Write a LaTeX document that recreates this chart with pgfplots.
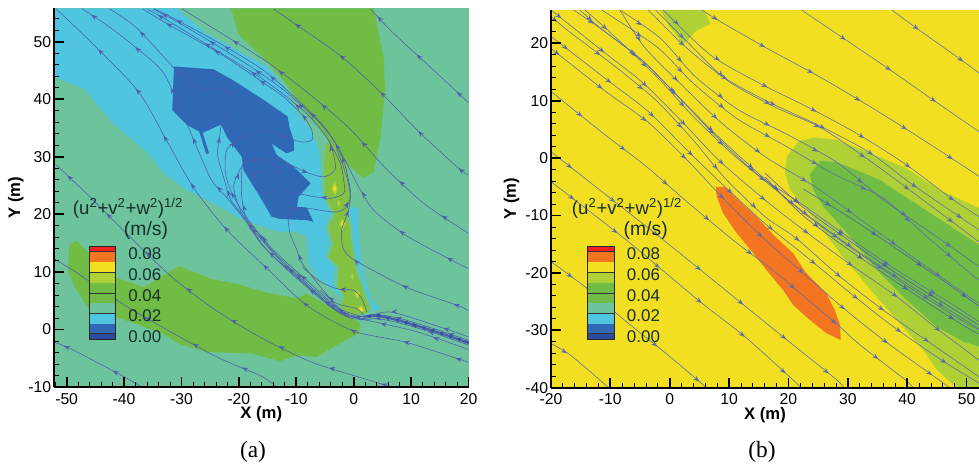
\documentclass[border=0pt]{standalone}
\usepackage{fontspec}
\usepackage{pgfplots}
\pgfplotsset{compat=1.18}
\usetikzlibrary{decorations.markings,arrows.meta}
\setmainfont{Liberation Sans}
\newfontfamily\capfont{Liberation Serif}
\definecolor{cRed}{HTML}{EE2024}
\definecolor{cOrange}{HTML}{F47521}
\definecolor{cYellow}{HTML}{F3DF22}
\definecolor{cLime}{HTML}{AFD136}
\definecolor{cGreen}{HTML}{70BC44}
\definecolor{cTeal}{HTML}{6DC39B}
\definecolor{cCyan}{HTML}{4FC5E0}
\definecolor{cBlue}{HTML}{2F68B4}
\definecolor{cNavy}{HTML}{2B4C9F}
\definecolor{cLineA}{HTML}{4C5EAC}
\definecolor{cLineB}{HTML}{5B6BAA}
\definecolor{cTxt}{HTML}{15302A}
\tikzset{
 flowline/.style={draw=#1,line width=0.42pt,smooth,tension=0.45,no markers},
 flowtips/.style 2 args={draw=none,no markers,
   postaction={decorate},
   decoration={markings,mark=between positions #2 and -6pt step 41pt with
     {\arrow[#1]{Stealth[length=4.6pt,width=3.5pt,inset=1.6pt]}}}},
 poly/.style={fill=#1,draw=none,no markers}
}
\newcommand\SA[2]{\addplot[flowline=cLineA] coordinates {#2};\addplot[flowtips={cLineA}{#1}] coordinates {#2};}
\newcommand\SB[2]{\addplot[flowline=cLineB] coordinates {#2};\addplot[flowtips={cLineB}{#1}] coordinates {#2};}
\pgfplotsset{
 panel/.style={
  scale only axis,
  axis on top,
  axis x line*=bottom,
  axis y line*=left,
  axis line style={line width=1.5pt,-},
  xtick distance=10,
  ytick distance=10,
  minor x tick num=4,
  minor y tick num=4,
  tick align=inside,
  major tick length=7.5pt,
  minor tick length=3.8pt,
  every major tick/.append style={line width=1.4pt,black},
  every minor tick/.append style={line width=0.6pt,black},
  /pgf/number format/assume math mode=true,
  tick label style={font=\fontsize{11.8}{12}\selectfont},
  xticklabel style={inner sep=2pt,yshift=-2.5pt},
  yticklabel style={inner sep=2pt},
  xlabel={X (m)},
  ylabel={Y (m)},
 }
}
\newcommand\legendbar[2]{% #1 x left, #2 x right (pixels)
  \fill[cRed]    (#1,246)   rectangle (#2,251.7);
  \fill[cOrange] (#1,251.7) rectangle (#2,262);
  \fill[cYellow] (#1,262)   rectangle (#2,272.5);
  \fill[cLime]   (#1,272.5) rectangle (#2,282.5);
  \fill[cGreen]  (#1,282.5) rectangle (#2,303);
  \fill[cTeal]   (#1,303)   rectangle (#2,313.7);
  \fill[cCyan]   (#1,313.7) rectangle (#2,323.7);
  \fill[cBlue]   (#1,323.7) rectangle (#2,333.7);
  \fill[cNavy]   (#1,333.7) rectangle (#2,339.3);
  \foreach \yy in {251.7,272.5,293,313.7,333.7}{\draw[black!80,line width=0.45pt] (#1,\yy) -- (#2,\yy);}
  \draw[black!85,line width=0.6pt] (#1,246) rectangle (#2,339.3);
}
\newcommand\legendtxt[3]{% #1 x left of numbers, #2 x centre of title, #3 x centre of (m/s)
  \foreach \v/\yy in {0.08/253.5,0.06/274.5,0.04/295.5,0.02/316,0.00/337}{
    \node[anchor=west,inner sep=0pt,text=cTxt,font=\fontsize{12.7}{13}\selectfont] at (#1,\yy) {\v};}
  \node[inner sep=0pt,text=cTxt,font=\fontsize{14}{14}\selectfont] at (#2,208)
     {(u\textsuperscript{2}+v\textsuperscript{2}+w\textsuperscript{2})\textsuperscript{1/2}};
  \node[inner sep=0pt,text=cTxt,font=\fontsize{14.5}{15}\selectfont] at (#3,230) {(m/s)};
}
\begin{document}
\begin{tikzpicture}[x=0.75pt,y=-0.75pt]
\useasboundingbox (0,0) rectangle (979,465);
%====================== (a)
\begin{axis}[panel,at={(40.5pt,-290.25pt)},anchor=south west,
  width=310.9pt,height=284pt,
  xmin=-52.2,xmax=20,ymin=-10,ymax=55.8,
  axis background/.style={fill=cTeal},
  every axis y label/.style={at={(axis description cs:-0.092,0.5)},rotate=90,anchor=center,font=\bfseries\fontsize{12.5}{13}\selectfont},
  every axis x label/.style={at={(axis description cs:0.5,-0.073)},anchor=center,font=\bfseries\fontsize{12.5}{13}\selectfont}]
% contour bands
\addplot[poly=cCyan] coordinates {(-52.2,55.8)(-30.8,55.8)(-25.6,51.4)(-21,48.9)(-15.1,45.7)(-11.7,41.6)(-10.2,38.1)(-8.5,36.1)(-7.3,34.1)(-6.4,32.3)(-5.6,29.4)(-5,22.5)(-2,21.5)(-0.3,21.3)(0.7,21)(0.85,16.7)(1.4,11.5)(2.3,7.4)(3.2,5.1)(4.6,3.6)(2.3,2.9)(1.1,3)(-6.4,9.1)(-7.9,11.5)(-8.2,16.1)(-9.9,17)(-13.4,17)(-19.8,19.3)(-24.4,21.9)(-29,24.2)(-33.1,27.1)(-35.8,30.6)(-41.9,35.8)(-47.1,41.9)(-52.2,43.9)} --cycle;
\addplot[poly=cBlue] coordinates {(-31.3,45.7)(-24.4,45.2)(-21,43.3)(-15.7,39.9)(-11.5,37)(-11.2,35.2)(-10.4,32.6)(-10.4,31.1)(-11.7,30.6)(-14.3,32.3)(-13.4,30.3)(-10.5,28.3)(-7.5,25.4)(-9.6,23.05)(-9.9,21.3)(-8.2,21.2)(-7,18.7)(-8.2,19)(-12.8,19.2)(-14.3,19.6)(-16.3,23)(-19.2,27.7)(-19.5,30)(-22.1,33.5)(-23.1,35.6)(-26.3,34.2)(-25.2,30.6)(-25.7,30.5)(-26.9,34.4)(-29,35.5)(-31.6,38.1)} --cycle;
\addplot[poly=cTeal] coordinates {(-6.4,33.5)(-5.8,29.4)(-5.5,23.6)(-4.6,21.3)(-3.8,20.2)(-5,17.8)(-4.1,14.9)(-5,12.6)(-3.2,10.9)(-3.5,8)(-2.1,6)(-3,4.2)(-1.2,2.8)(2.9,2.8)(3.2,3.9)(2.3,6.2)(1.8,7.4)(1.1,9.7)(0.5,12.6)(-0.1,15.5)(-0.2,17.2)(-0.7,20.2)(-0.2,22.5)(-0.7,26.5)(-1.3,28.8)(-3.5,32.9)} --cycle;
\addplot[poly=cGreen] coordinates {(-21.4,55.8)(-20.1,51.4)(-15.1,46.5)(-12.2,43.3)(-9.3,39.3)(-6.7,35.8)(-4.4,32.9)(-1.8,29.4)(0,27.7)(1.7,26.3)(3.5,27.4)(4.6,32.9)(5.5,41.6)(5.2,47.4)(4,53.2)(3.5,55.8)} --cycle;
\addplot[poly=cGreen!72!cLime] coordinates {(-4.9,32.3)(-5.1,28.3)(-5,23.6)(-4.1,21.3)(-3.2,20.2)(-4.4,17.8)(-3.5,14.9)(-4.4,12.6)(-2.6,10.9)(-2.9,7.4)(-1.5,5.6)(-2.4,3.9)(-0.6,2.5)(2.3,2.8)(2.8,3.6)(1.7,6.2)(1.4,7.4)(0.5,9.7)(-0.1,12.6)(-0.5,15.5)(-0.6,17.3)(-1.2,20.2)(-0.6,22.5)(-1.2,26.5)(-1.2,28.3)(-3.5,32.3)} --cycle;
\addplot[poly=cGreen] coordinates {(-49.5,14.7)(-48.2,15.4)(-46.6,13.7)(-41.7,9.1)(-36.5,7.3)(-34.2,8.8)(-30.4,11)(-24.9,8.8)(-20.3,7.9)(-15.1,6.4)(-9.9,5.4)(-8.2,6.2)(-4.1,3.9)(-1.2,2.5)(1.1,1)(0.9,-0.7)(-3.5,-3)(-6.4,-4.8)(-9.9,-4.5)(-12.8,-5.5)(-17.7,-4.2)(-25.8,-3.9)(-30.4,-2.5)(-33.3,-0.7)(-39.7,1.6)(-46,3.4)(-48.6,7.4)(-49.8,10.3)} --cycle;
% bright spots along the ridge
\addplot[poly=cLime] coordinates {(-3.9,24.6)(-3.3,25.6)(-2.8,24.6)(-3.2,23.2)} --cycle;
\addplot[poly=cLime] coordinates {(-2.9,22)(-2.6,22.6)(-2.3,21.9)(-2.6,21.2)} --cycle;
\addplot[poly=cLime] coordinates {(-2.5,18.4)(-2,19.2)(-1.4,18.4)(-2,17.3)} --cycle;
\addplot[poly=cLime] coordinates {(-0.5,9.2)(-0.2,9.6)(0,9.1)(-0.2,8.6)} --cycle;
\addplot[poly=cLime] coordinates {(0,6.3)(0.6,6.9)(1.2,6.2)(0.7,5.4)} --cycle;
\addplot[poly=cLime] coordinates {(0.6,3.6)(1.2,4.3)(2,3.4)(1.3,2.9)} --cycle;
\addplot[poly=cYellow] coordinates {(-3.6,24.5)(-3.3,25.1)(-3,24.5)(-3.3,23.9)} --cycle;
\addplot[poly=cYellow] coordinates {(-2.2,18.4)(-2,18.8)(-1.7,18.4)(-2,17.9)} --cycle;
\addplot[poly=cYellow] coordinates {(0.4,6.2)(0.7,6.5)(1,6.2)(0.7,5.8)} --cycle;
\addplot[poly=cYellow] coordinates {(0.9,3.5)(1.3,3.9)(1.6,3.4)(1.3,3.1)} --cycle;
% streamlines
\SA{12pt}{(20,39.4)(14.2,44.8)(6.9,51.5)(2.9,55.7)}
\SA{9pt}{(20,26.8)(18.3,28)(11.3,34.4)(4.9,41)(-2.1,47.4)(-9.9,52.9)(-14,55.7)}
\SA{24pt}{(20,16.7)(12.2,21.9)(5.5,28.1)(-0.7,34.9)(-7.6,40.8)(-15.1,46.5)(-24.4,52.3)(-29.9,55.7)}
\SA{18pt}{(20,10.6)(17.7,11.7)(9,16.4)(3.5,20.7)(0.85,24.8)(-1.2,28.8)(-3.5,32.9)(-6.4,36.4)(-12.2,41.6)(-18,45.7)(-24.4,49.7)(-30.8,53.5)(-34.9,55.7)}
\SA{12pt}{(20,3.3)(18,4.2)(9,7.4)(0.26,12)(-1.8,14)(-2.1,17.3)(-0.9,20.7)(-0.6,24.2)(-1.8,29.4)(-4.4,34.3)(-8.5,38.7)(-15.4,44.8)(-23.3,49.7)(-32,54.4)(-34.8,55.7)}
\SA{10pt}{(20,-5.7)(9,-2.2)(0,-0.3)(-8.2,4.2)(-15.1,10.6)(-22.1,17.3)(-27.8,24.5)(-32.4,32.5)(-37.4,41.2)(-44.9,49.1)(-51.9,55.8)}
\SA{28pt}{(20,-3.5)(11,-0.4)(2.3,1.6)(-1.2,2.2)(-5.8,5.7)(-12.8,12)(-17.5,17.3)(-22,22.8)(-24.9,26.2)(-28.7,34.9)(-32.4,43.3)(-34.8,46.4)(-42.3,52.4)(-47.3,55.7)}
\SA{20pt}{(20,-1.3)(15.9,0.15)(6.6,3)(2.3,2.3)(-1.2,2.5)(-6.4,6.5)(-13.4,12.9)(-18.3,18.7)(-21.4,22.5)(-22.6,26.2)(-23.7,30.3)(-23.4,33.2)(-22.9,36.4)(-22,37.2)(-20.8,40.2)(-22.6,41.9)(-26.6,41.9)(-30.1,44.2)(-37.7,52.3)(-42.5,55.7)}
\SA{16pt}{(20,-1.9)(13.9,0.15)(8.1,1.9)(4,2.6)(1.7,2.2)(-1.8,3)(-7.6,8)(-14.3,14.1)(-18.3,19)(-20.9,23)(-22.1,26)(-22.4,28.3)(-22.1,31.2)(-19.8,33.2)(-16,34.6)(-12.8,33.8)(-9.3,32.6)(-7.3,32.9)(-7.3,34.6)(-8.7,37)(-12.2,40.4)(-15.6,42.8)(-23.4,48)(-32.1,52.9)(-36.8,55.7)}
\SA{6pt}{(20,-2.35)(13.9,-0.25)(8.1,1.5)(4,2.3)(1.7,1.9)(-2.4,2.8)(-8.2,7.4)(-15.1,13.8)(-18.6,19)(-19.5,23)(-19.5,26.8)(-19.2,28.8)(-16.3,29.7)(-12.8,29.4)(-8.5,27.4)(-5.3,26.5)(-3.5,27.4)(-3.2,28.8)(-4.4,32.9)(-8.5,37.8)(-15.7,43.4)(-23.9,48.5)(-32.6,53.8)(-36,55.7)}
\SA{32pt}{(20,-2.7)(13.9,-0.6)(8.1,1.1)(4,1.9)(1.7,1.7)(-2.9,3.3)(-9,8.3)(-15.7,14.4)(-19.5,20.2)(-20.9,24.8)(-19.5,28.3)(-18,29.4)(-15.7,29.5)(-13.7,28.3)(-12.8,26)(-13.7,24.2)(-15.4,23.6)(-17.2,24.7)(-17.8,26)(-17.2,27.1)(-15.7,27.4)(-14.9,26.2)(-15.4,25.1)(-16.3,25.4)(-16.4,26.1)(-16,26.4)}
\SA{60pt}{(-4.4,32.9)(-2.3,28.8)(-1.6,24.8)(-1.8,23.6)(-3.8,22.8)(-7,23.1)(-9.6,23.6)(-12.8,24.2)}
\SA{70pt}{(1.7,2.2)(-2.4,3.6)(-5.8,7.4)(-9,11.5)(-9.9,13.8)(-11.1,16.7)(-11.4,19.8)(-10.5,21)(-7.6,21)(-3.5,20.4)(-1.5,21)(-0.6,23)(-1.2,26.5)(-2.9,31.2)}
\SA{30pt}{(2.3,3)(1.4,5.4)(0,6.8)(-2.6,7)(-5.8,8.3)(-9,10.9)}
\SA{30pt}{(1.7,2.5)(0.55,3.6)(-2.9,4.5)(-5.8,6.8)}
\SA{8pt}{(6.6,-10)(2,-8.6)(-7.3,-5.7)(-16.2,-1.4)(-24.1,3.4)(-32,9.4)(-41.3,18.4)(-45.9,23)(-52,28.8)}
\SA{30pt}{(-13.4,-10)(-16.3,-8)(-24.4,-4.5)(-38.9,3.6)(-48,9.7)(-52.2,12.3)}
\SA{25pt}{(-36.9,-10)(-40.4,-8)(-49.4,-3.3)(-52.2,-2.2)}
% the dense rail
\addplot[draw=cLineA,line width=1.7pt,smooth,tension=0.45,no markers] coordinates {(20,-2.3)(13.9,-0.25)(8.1,1.5)(4,2.4)(1.7,2.2)};
\addplot[draw=none,no markers,postaction={decorate},
  decoration={markings,mark=between positions 2pt and -2pt step 7pt with {\arrow[cNavy]{Stealth[length=3pt,width=3.2pt]}}}]
  coordinates {(20,-2.3)(13.9,-0.25)(8.1,1.5)(4,2.4)(1.7,2.2)};
\end{axis}
\legendbar{89.7}{115.7}
\legendtxt{128}{128}{146}
\node[inner sep=0pt,font=\capfont\fontsize{17.5}{18}\selectfont] at (253,452) {(a)};
%====================== (b)
\begin{axis}[panel,at={(413.25pt,-290.775pt)},anchor=south west,
  width=321pt,height=283.3pt,
  xmin=-20,xmax=52.1,ymin=-40,ymax=25.8,
  axis background/.style={fill=cYellow},
  every axis y label/.style={at={(axis description cs:-0.092,0.5)},rotate=90,anchor=center,font=\bfseries\fontsize{12.5}{13}\selectfont},
  every axis x label/.style={at={(axis description cs:0.5,-0.074)},anchor=center,font=\bfseries\fontsize{12.5}{13}\selectfont}]
\addplot[poly=cLime] coordinates {(-1.6,25.8)(5.7,25.8)(6.9,23.4)(4.5,22.2)(2.3,19.8)(-0.2,23.2)} --cycle;
\addplot[poly=cLime] coordinates {(19.4,-2.6)(19.7,0.26)(21.7,2.9)(24.2,3.6)(28.1,3.2)(33.2,1.1)(39.9,-1.8)(45.5,-5.6)(52.1,-8.7)(52.1,-40)(48.3,-40)(45,-36.9)(42.7,-33.4)(38.8,-28.8)(34.3,-23.5)(28.7,-16.6)(23.6,-9.6)(20.3,-5.6)} --cycle;
\addplot[poly=cGreen] coordinates {(23.6,-2.9)(25.3,-0.5)(28.1,-0.7)(35.4,-3.8)(40.5,-7.3)(46.6,-11.4)(52.1,-15.1)(52.1,-32.8)(49.5,-32)(45,-29.4)(39.9,-24.7)(34.9,-19.5)(30.4,-13.7)(25.9,-8.5)(24.2,-5.6)} --cycle;
\addplot[poly=cOrange] coordinates {(7.8,-5)(9.3,-5)(11.8,-7.6)(14.6,-10.2)(17.5,-13.4)(20.8,-16.6)(22.8,-19.8)(26.4,-23.6)(27.8,-26.5)(28.7,-29.1)(28.8,-31.7)(26.4,-30.5)(23.6,-28.2)(20.8,-25.6)(19.1,-23)(16.3,-19.5)(14.1,-16.6)(11.3,-13.1)(9,-9.6)(7.9,-6.7)} --cycle;
% streamlines
\SB{25pt}{(37.4,25.8)(41.9,22.4)(49.5,16.8)(52.1,14.8)}
\SB{40pt}{(22.2,25.8)(29.5,20.7)(36.8,15.6)(44.4,10.1)(52.1,4.6)}
\SB{14pt}{(5.4,25.8)(8.5,23.8)(16.6,19)(25,14.3)(32.9,9.5)(41,4.3)(49.2,-1.2)(52.1,-3.2)}
\SB{38pt}{(-3.6,25.8)(2.3,19.7)(9,14.1)(17.2,9.5)(25.3,5.6)(33.7,0.95)(41,-4.7)(52.1,-12.5)}
\SB{30pt}{(-2.4,25.8)(2.9,20.3)(9.6,13.6)(17.5,9)(25.6,5.2)(34.3,-0.9)(41.9,-6.7)(52.1,-14.6)}
\SB{16pt}{(-1.1,25.8)(6.8,18)(15.2,13)(23.6,8.7)(32,4)(39.9,-1.2)(47.8,-7.3)(52.1,-10.2)}
\SB{20pt}{(-8.4,25.8)(-1.6,20.9)(4.3,14.2)(11.6,8.4)(20,4)(28.4,-0.9)(36,-7.3)(43.3,-12.5)(52.1,-18.9)}
\SB{8pt}{(-20,19.1)(-10.9,11.7)(-3.6,6.2)(2.9,-0.3)(9,-7)(15.5,-13.7)(22.2,-19.8)(29.1,-26)(36,-31.7)(43.8,-37.5)(47.2,-40)}
\SB{30pt}{(-20,11.6)(-11.2,4.3)(-3.9,-1.5)(2.9,-7.6)(10.7,-14.3)(17.7,-19.8)(25,-26.2)(28.7,-29.4)(32,-32.5)(39.4,-38.4)(41,-40)}
\SB{20pt}{(-20,1.1)(-1.4,-14)(13.2,-26.2)(20.5,-32.3)(28.1,-38.6)(29.3,-40)}
\SB{22pt}{(-20,-4.1)(-7.3,-14.3)(5.1,-25)(13,-31.4)(22.2,-40)}
\SB{20pt}{(-20,-18.05)(-14.3,-22.4)(-7.3,-28.5)(0.05,-34.6)(6.2,-40)}
\SB{14pt}{(-20,-32.3)(-16.5,-34.5)(-10.3,-40)}
\SB{6pt}{(-20,24.65)(-16.9,22)(-9.5,16.2)(-2.5,10.25)(3.7,3.45)(9.3,-3.5)(16.05,-10.2)(21.1,-13.8)(28.4,-20.4)(36,-26.5)(43.6,-32)(52.1,-38.1)}
\SB{18pt}{(-16.2,25.8)(-11.7,22.6)(-4.4,16.8)(1.7,10.4)(7.9,3.7)(14.9,-2.95)(22.5,-8.2)(30.4,-14)(38.2,-19.5)(46.4,-24.7)(52.1,-28.5)}
\SB{12pt}{(-15.1,25.8)(-12,22.9)(-4.7,17.1)(1.45,10.7)(7.6,4.3)(14.6,-2.35)(22.2,-9.3)(30.1,-15.3)(40.2,-22.4)(48.6,-27.9)(52.1,-29.9)}
\SB{28pt}{(-8.4,25.8)(-4.2,19.25)(2.3,12.45)(8.75,6.1)(16.05,0.26)(24.5,-5)(32.3,-10.8)(40.2,-16.7)(48,-22.4)(52.1,-25.3)}
\SB{36pt}{(-11.5,25.8)(-2.2,19.4)(4,13)(11.3,6.9)(19.7,2)(27.6,-2.75)(36,-7)(43,-13.4)(50.3,-19.8)(52.1,-21.2)}
\SB{22pt}{(-14.3,25.8)(-9.8,21.7)(-2.2,14.2)(4,7.2)(10.4,0.85)(15.8,-3.8)(22.8,-9.6)(30.9,-15.7)(38.5,-20.9)(52.1,-29.7)}
\SB{10pt}{(-20,25.8)(-11.5,18.8)(-4.4,13)(2.3,6.1)(8.2,-0.3)(16.05,-7.3)(22.5,-12.5)(30.1,-18.3)(38.2,-24.1)(45,-29.7)(52.1,-35.2)}
\SB{16pt}{(-20,21.2)(-10.9,13.9)(-3.6,8.1)(2.9,1.4)(9,-4.7)(16.05,-11.4)(22.8,-17)(30.4,-23.5)(37.7,-29.4)(45.8,-35.2)(52.1,-39.2)}
% denser strands of the lower bundle
\SA{34pt}{(16.05,-2.6)(22.5,-8.6)(30.4,-14.5)(38.2,-20.1)(46.4,-25.4)(52.1,-29.1)}
\SA{14pt}{(16.05,-3.3)(22.2,-9.8)(30.1,-15.9)(40.2,-23)(48.6,-28.6)(52.1,-30.7)}
\SA{24pt}{(22.5,-5.4)(30.4,-10.4)(38.2,-15.8)(46.4,-21.6)(52.1,-25.8)}
\end{axis}
\legendbar{587.3}{614}
\legendtxt{626.7}{627}{645.7}
\node[inner sep=0pt,font=\capfont\fontsize{17.5}{18}\selectfont] at (762,452) {(b)};
\end{tikzpicture}
\end{document}
